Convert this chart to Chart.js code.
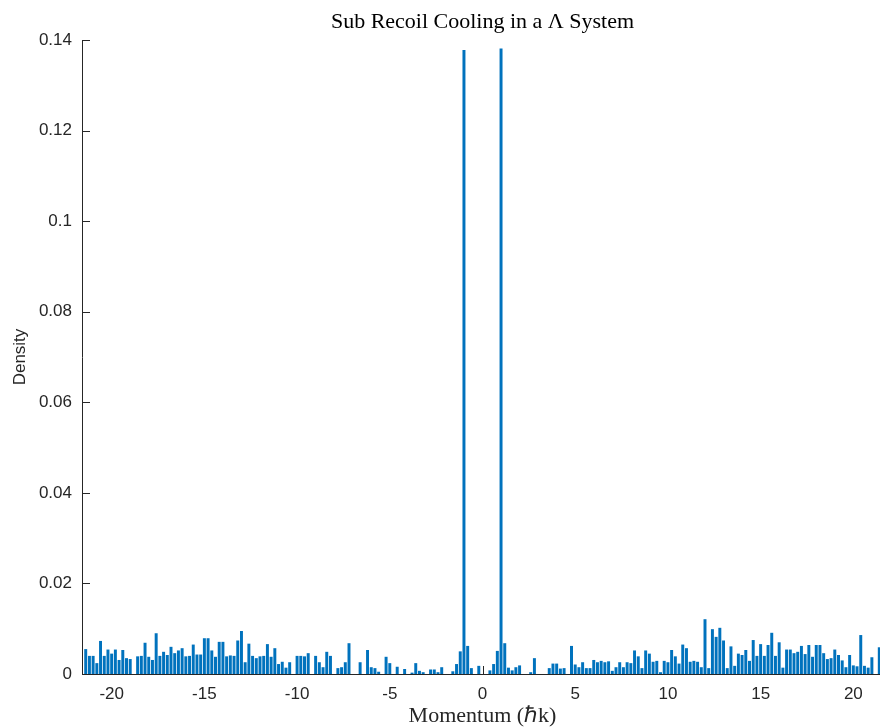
<!DOCTYPE html>
<html>
<head>
<meta charset="utf-8">
<script src="https://cdn.jsdelivr.net/npm/chart.js@4/dist/chart.umd.min.js"></script>
<style>
  html, body { margin: 0; padding: 0; background: #fff; overflow: hidden; }
  canvas { display: block; }
</style>
</head>
<body>
<canvas id="chart" width="883" height="728"></canvas>
<script>
// histogram bin centres (hbar k), bins 0.2 wide
const binCenters = [
  -21.4, -21.2, -21.0, -20.8, -20.6, -20.4, -20.2, -20.0, -19.8, -19.6,
  -19.4, -19.2, -19.0, -18.8, -18.6, -18.4, -18.2, -18.0, -17.8, -17.6,
  -17.4, -17.2, -17.0, -16.8, -16.6, -16.4, -16.2, -16.0, -15.8, -15.6,
  -15.4, -15.2, -15.0, -14.8, -14.6, -14.4, -14.2, -14.0, -13.8, -13.6,
  -13.4, -13.2, -13.0, -12.8, -12.6, -12.4, -12.2, -12.0, -11.8, -11.6,
  -11.4, -11.2, -11.0, -10.8, -10.6, -10.4, -10.2, -10.0, -9.8, -9.6,
  -9.4, -9.2, -9.0, -8.8, -8.6, -8.4, -8.2, -8.0, -7.8, -7.6,
  -7.4, -7.2, -7.0, -6.8, -6.6, -6.4, -6.2, -6.0, -5.8, -5.6,
  -5.4, -5.2, -5.0, -4.8, -4.6, -4.4, -4.2, -4.0, -3.8, -3.6,
  -3.4, -3.2, -3.0, -2.8, -2.6, -2.4, -2.2, -2.0, -1.8, -1.6,
  -1.4, -1.2, -1.0, -0.8, -0.6, -0.4, -0.2, 0.0, 0.2, 0.4,
  0.6, 0.8, 1.0, 1.2, 1.4, 1.6, 1.8, 2.0, 2.2, 2.4,
  2.6, 2.8, 3.0, 3.2, 3.4, 3.6, 3.8, 4.0, 4.2, 4.4,
  4.6, 4.8, 5.0, 5.2, 5.4, 5.6, 5.8, 6.0, 6.2, 6.4,
  6.6, 6.8, 7.0, 7.2, 7.4, 7.6, 7.8, 8.0, 8.2, 8.4,
  8.6, 8.8, 9.0, 9.2, 9.4, 9.6, 9.8, 10.0, 10.2, 10.4,
  10.6, 10.8, 11.0, 11.2, 11.4, 11.6, 11.8, 12.0, 12.2, 12.4,
  12.6, 12.8, 13.0, 13.2, 13.4, 13.6, 13.8, 14.0, 14.2, 14.4,
  14.6, 14.8, 15.0, 15.2, 15.4, 15.6, 15.8, 16.0, 16.2, 16.4,
  16.6, 16.8, 17.0, 17.2, 17.4, 17.6, 17.8, 18.0, 18.2, 18.4,
  18.6, 18.8, 19.0, 19.2, 19.4, 19.6, 19.8, 20.0, 20.2, 20.4,
  20.6, 20.8, 21.0, 21.2, 21.4
];

// density per bin
const density = [
  0.0055, 0.0040, 0.0040, 0.0024, 0.0073, 0.0040, 0.0054, 0.0045, 0.0054, 0.0031,
  0.0053, 0.0035, 0.0033, 0.0000, 0.0039, 0.0040, 0.0069, 0.0038, 0.0031, 0.0090,
  0.0040, 0.0049, 0.0042, 0.0060, 0.0046, 0.0052, 0.0057, 0.0039, 0.0040, 0.0065,
  0.0043, 0.0043, 0.0079, 0.0079, 0.0052, 0.0038, 0.0071, 0.0071, 0.0039, 0.0041,
  0.0040, 0.0074, 0.0095, 0.0026, 0.0067, 0.0040, 0.0035, 0.0039, 0.0040, 0.0066,
  0.0038, 0.0057, 0.0022, 0.0027, 0.0014, 0.0026, 0.0000, 0.0040, 0.0040, 0.0039,
  0.0046, 0.0000, 0.0040, 0.0026, 0.0015, 0.0049, 0.0040, 0.0000, 0.0013, 0.0015,
  0.0026, 0.0068, 0.0000, 0.0000, 0.0026, 0.0000, 0.0053, 0.0015, 0.0013, 0.0005,
  0.0000, 0.0038, 0.0024, 0.0000, 0.0016, 0.0000, 0.0011, 0.0000, 0.0003, 0.0024,
  0.0007, 0.0004, 0.0000, 0.0010, 0.0010, 0.0004, 0.0015, 0.0000, 0.0000, 0.0006,
  0.0022, 0.0050, 0.1378, 0.0062, 0.0013, 0.0000, 0.0018, 0.0000, 0.0000, 0.0008,
  0.0022, 0.0051, 0.1381, 0.0068, 0.0014, 0.0008, 0.0015, 0.0019, 0.0000, 0.0000,
  0.0004, 0.0035, 0.0000, 0.0000, 0.0000, 0.0013, 0.0023, 0.0023, 0.0012, 0.0013,
  0.0000, 0.0062, 0.0021, 0.0015, 0.0026, 0.0013, 0.0013, 0.0031, 0.0026, 0.0029,
  0.0026, 0.0028, 0.0007, 0.0015, 0.0026, 0.0015, 0.0026, 0.0024, 0.0052, 0.0039,
  0.0013, 0.0052, 0.0045, 0.0027, 0.0029, 0.0004, 0.0029, 0.0026, 0.0053, 0.0039,
  0.0023, 0.0065, 0.0057, 0.0027, 0.0029, 0.0027, 0.0015, 0.0121, 0.0013, 0.0099,
  0.0082, 0.0102, 0.0074, 0.0013, 0.0061, 0.0018, 0.0045, 0.0042, 0.0053, 0.0029,
  0.0075, 0.0040, 0.0066, 0.0040, 0.0064, 0.0091, 0.0040, 0.0070, 0.0014, 0.0054,
  0.0054, 0.0046, 0.0049, 0.0062, 0.0044, 0.0064, 0.0038, 0.0064, 0.0064, 0.0046,
  0.0033, 0.0035, 0.0054, 0.0042, 0.0030, 0.0015, 0.0042, 0.0019, 0.0017, 0.0086,
  0.0018, 0.0014, 0.0037, 0.0000, 0.0059
];

const xTicks = [-20, -15, -10, -5, 0, 5, 10, 15, 20];
const xTickLabels = ['-20', '-15', '-10', '-5', '0', '5', '10', '15', '20'];
const yTicks = [0, 0.02, 0.04, 0.06, 0.08, 0.1, 0.12, 0.14];
const yTickLabels = ['0', '0.02', '0.04', '0.06', '0.08', '0.1', '0.12', '0.14'];

const axisColor = '#262626';
const barColor = '#0072BD';

// matlab style ticks, pointing into the axes, drawn under the bars
const inwardTicks = {
  id: 'inwardTicks',
  beforeDatasetsDraw(chart) {
    const {ctx, chartArea, scales} = chart;
    ctx.save();
    ctx.strokeStyle = axisColor;
    ctx.lineWidth = 1;
    ctx.beginPath();
    xTicks.forEach(v => {
      const px = Math.round(scales.x.getPixelForValue(v)) + 0.5;
      ctx.moveTo(px, chartArea.bottom);
      ctx.lineTo(px, chartArea.bottom - 8);
    });
    yTicks.forEach(v => {
      const py = Math.round(scales.y.getPixelForValue(v)) + 0.5;
      ctx.moveTo(chartArea.left, py);
      ctx.lineTo(chartArea.left + 8, py);
    });
    ctx.stroke();
    ctx.restore();
  }
};

new Chart(document.getElementById('chart'), {
  type: 'bar',
  data: {
    datasets: [{
      label: 'Density',
      data: binCenters.map((x, i) => ({x: x, y: density[i]})),
      backgroundColor: barColor,
      borderWidth: 0,
      barPercentage: 1,
      categoryPercentage: 0.8
    }]
  },
  options: {
    responsive: false,
    animation: false,
    layout: {padding: 0},
    plugins: {
      legend: {display: false},
      tooltip: {enabled: false},
      title: {
        display: true,
        fullSize: false,
        text: 'Sub Recoil Cooling in a Λ System',
        color: '#000',
        font: {family: 'Liberation Serif', size: 22, weight: 'normal', lineHeight: 1},
        padding: {top: 11, bottom: 7}
      }
    },
    scales: {
      x: {
        type: 'linear',
        offset: false,
        min: -21.6,
        max: 21.6,
        afterBuildTicks: s => { s.ticks = xTicks.map(v => ({value: v})); },
        afterFit: s => { s.height = 54; },
        grid: {display: false, drawTicks: false},
        border: {color: axisColor, width: 1},
        ticks: {
          color: axisColor,
          font: {family: 'Liberation Sans', size: 17},
          padding: 10,
          maxRotation: 0,
          callback: (v, i) => xTickLabels[i]
        },
        title: {
          display: true,
          text: 'Momentum (ℏk)',
          color: axisColor,
          font: {family: 'Liberation Serif', size: 22, lineHeight: 1},
          padding: {top: 0, bottom: 1}
        }
      },
      y: {
        min: 0,
        max: 0.14,
        afterBuildTicks: s => { s.ticks = yTicks.map(v => ({value: v})); },
        afterFit: s => { s.width = 82; },
        grid: {display: false, drawTicks: false},
        border: {color: axisColor, width: 1},
        ticks: {
          color: axisColor,
          font: {family: 'Liberation Sans', size: 17},
          padding: 10,
          callback: (v, i) => yTickLabels[i]
        },
        title: {
          display: true,
          text: 'Density',
          color: axisColor,
          font: {family: 'Liberation Sans', size: 17},
          padding: {top: 10, bottom: 0}
        }
      }
    }
  },
  plugins: [inwardTicks]
});
</script>
</body>
</html>
